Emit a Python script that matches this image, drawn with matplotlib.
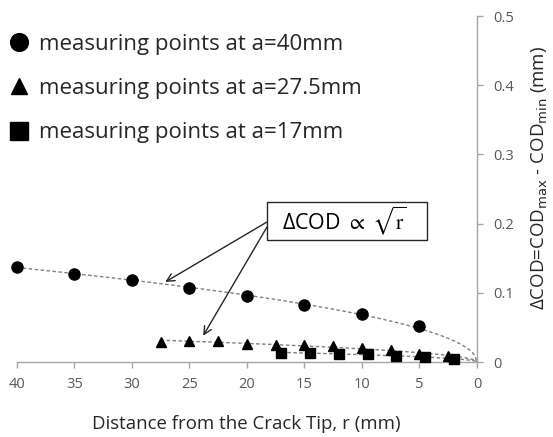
import numpy as np
import matplotlib
matplotlib.use("Agg")
import matplotlib.pyplot as plt
from matplotlib.patches import Rectangle

plt.rcParams['font.family'] = ['Open Sans', 'DejaVu Sans']

# ---- data ----
r_40 = [40, 35, 30, 25, 20, 15, 10, 5]
cod_40 = [0.138, 0.127, 0.118, 0.107, 0.096, 0.082, 0.069, 0.052]

r_275 = [27.5, 25, 22.5, 20, 17.5, 15, 12.5, 10, 7.5, 5, 2.5]
cod_275 = [0.029, 0.031, 0.030, 0.026, 0.024, 0.024, 0.023, 0.020, 0.017, 0.012, 0.009]

r_17 = [17, 14.5, 12, 9.5, 7, 4.5, 2]
cod_17 = [0.013, 0.013, 0.012, 0.011, 0.009, 0.007, 0.005]

labels = ["measuring points at a=40mm",
          "measuring points at a=27.5mm",
          "measuring points at a=17mm"]
x_ticks = [40, 35, 30, 25, 20, 15, 10, 5, 0]
y_ticks = [0, 0.1, 0.2, 0.3, 0.4, 0.5]

GRAY = '#A6A6A6'
TXT = '#595959'

fig = plt.figure(figsize=(5.53, 4.37), dpi=100)
ax = fig.add_axes([16.8/553, 75/437, (477-16.8)/553, (362-16)/437])

def sqrt_fit(r, y):
    r = np.asarray(r, float); y = np.asarray(y, float)
    c = np.sum(y*np.sqrt(r))/np.sum(r)
    rr = np.linspace(max(r), 0, 200)
    return rr, c*np.sqrt(rr)

handles = []
for r, y, m, ms in [(r_40, cod_40, 'o', 8), (r_275, cod_275, '^', 7.2), (r_17, cod_17, 's', 7.8)]:
    rr, yy = sqrt_fit(r, y)
    ax.plot(rr, yy, color='#7f7f7f', lw=1.0, ls=(0, (2.5, 1.8)), zorder=2, clip_on=False)
    h, = ax.plot(r, y, ls='none', marker=m, ms=ms, color='black', zorder=3, clip_on=False)
    handles.append(h)

ax.set_xlim(40, 0)
ax.set_ylim(0, 0.5)
ax.set_xticks(x_ticks)
ax.set_xticklabels([str(v) for v in x_ticks])
ax.set_yticks(y_ticks)
ax.set_yticklabels(['0', '0.1', '0.2', '0.3', '0.4', '0.5'])
ax.yaxis.tick_right()
for s in ['left', 'top']:
    ax.spines[s].set_visible(False)
for s in ['right', 'bottom']:
    ax.spines[s].set_color(GRAY)
    ax.spines[s].set_linewidth(1.0)
ax.tick_params(axis='both', direction='out', length=4, width=1.0, color=GRAY,
               labelcolor=TXT, labelsize=10.5)
ax.tick_params(axis='x', pad=7)
ax.tick_params(axis='y', pad=8)

fig.text(246/553, 1-424/437, "Distance from the Crack Tip, r (mm)", ha='center', va='center',
         fontsize=13.4, color='#262626')
fig.text(540/553, 1-178/437, r"ΔCOD=COD$_{\mathrm{max}}$ - COD$_{\mathrm{min}}$ (mm)",
         rotation=90, ha='center', va='center', fontsize=13.5, color='#262626')

leg = ax.legend(handles, labels, loc='upper left', bbox_to_anchor=(2/553, 1-27/437),
                bbox_transform=fig.transFigure, frameon=False, fontsize=16,
                markerscale=1.6, handlelength=0.9, handletextpad=0.45,
                labelspacing=1.05, borderpad=0.3, borderaxespad=0)
for t in leg.get_texts():
    t.set_color('#262626')

# annotation box
fig.patches.append(Rectangle((267/553, 1-240/437), 160/553, 38/437, transform=fig.transFigure,
                             fill=False, edgecolor='#262626', lw=1.0))
fig.text(344/553, 1-221/437, r"ΔCOD $\propto$ $\sqrt{\mathrm{r}}$", ha='center', va='center',
         fontsize=15.5, color='black', math_fontfamily='stix')

ax.annotate("", xy=(27.1, 0.1156), xycoords='data', xytext=(267, 437-222), textcoords='figure pixels',
            arrowprops=dict(arrowstyle='->', color='#262626', lw=1.0, mutation_scale=14,
                            shrinkA=0, shrinkB=0))
ax.annotate("", xy=(23.8, 0.038), xycoords='data', xytext=(267, 437-227), textcoords='figure pixels',
            arrowprops=dict(arrowstyle='->', color='#262626', lw=1.0, mutation_scale=14,
                            shrinkA=0, shrinkB=0))

fig.savefig('out.png', dpi=100)
